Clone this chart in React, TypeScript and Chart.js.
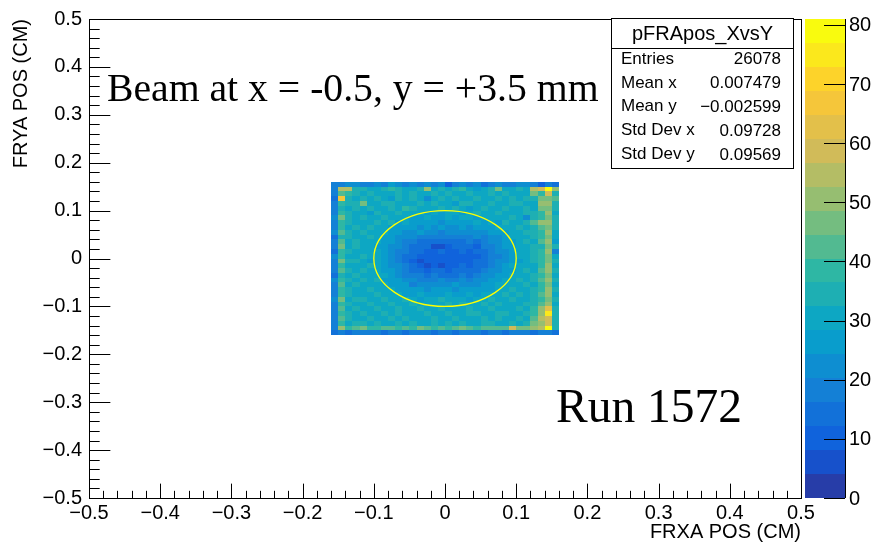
import React, { useEffect, useRef } from "react";
import { Chart, registerables } from "chart.js";

Chart.register(...registerables);

// ---------- data ----------
const X_MIN = -0.5;
const X_MAX = 0.5;
const Y_MIN = -0.5;
const Y_MAX = 0.5;
const AXIS_STEP = 0.1;
const MINOR_STEP = 0.02;

const HIST_X_LOW = -0.16; // left edge of first bin
const HIST_Y_HIGH = 0.16; // top edge of first row
const BIN_SIZE = 0.01;
const N_CONTOURS = 20;

const colorBarTicks = [0, 10, 20, 30, 40, 50, 60, 70, 80];

// bin contents, rows from top (y = 0.155) to bottom (y = -0.155), columns from x = -0.155 to 0.155
const cellCounts: number[][] = [
  [18, 20, 22, 21, 20, 19, 22, 20, 25, 24, 20, 21, 19, 22, 20, 21, 12, 20, 22, 19, 21, 13, 20, 22, 19, 20, 21, 22, 20, 12, 18, 14],
  [18, 55, 54, 36, 34, 30, 31, 33, 38, 33, 30, 32, 35, 50, 30, 35, 31, 35, 38, 30, 28, 32, 35, 48, 32, 30, 35, 31, 55, 58, 78, 52],
  [20, 42, 38, 33, 31, 35, 29, 32, 30, 34, 31, 36, 30, 29, 33, 31, 35, 30, 32, 33, 29, 31, 34, 30, 33, 32, 29, 31, 45, 40, 58, 35],
  [14, 66, 35, 30, 33, 29, 34, 31, 28, 33, 30, 35, 32, 22, 31, 33, 29, 34, 31, 30, 35, 32, 29, 33, 31, 36, 30, 33, 34, 45, 48, 44],
  [20, 38, 33, 36, 46, 31, 30, 34, 33, 29, 32, 30, 33, 31, 35, 30, 32, 28, 33, 36, 31, 30, 34, 32, 29, 33, 35, 31, 30, 52, 50, 35],
  [19, 36, 31, 33, 30, 35, 32, 29, 34, 31, 38, 33, 30, 32, 29, 33, 31, 34, 30, 28, 32, 35, 31, 30, 33, 29, 32, 34, 31, 48, 47, 33],
  [17, 40, 34, 30, 32, 28, 33, 31, 30, 35, 29, 30, 32, 28, 30, 27, 31, 29, 28, 30, 33, 31, 29, 34, 30, 32, 30, 33, 35, 40, 52, 32],
  [21, 48, 33, 31, 35, 32, 30, 36, 29, 31, 30, 28, 27, 29, 26, 28, 30, 27, 29, 31, 28, 30, 32, 29, 31, 34, 30, 22, 33, 38, 48, 34],
  [19, 37, 35, 30, 32, 30, 34, 31, 33, 28, 29, 26, 28, 25, 27, 24, 26, 28, 25, 27, 29, 26, 30, 28, 33, 31, 30, 34, 44, 50, 52, 33],
  [18, 39, 31, 34, 29, 33, 31, 30, 28, 27, 25, 27, 24, 26, 23, 25, 22, 24, 26, 23, 25, 27, 26, 29, 30, 32, 35, 31, 36, 42, 46, 35],
  [22, 42, 33, 30, 34, 31, 29, 32, 27, 26, 24, 22, 25, 21, 23, 20, 22, 21, 23, 22, 24, 21, 25, 27, 28, 31, 30, 33, 35, 40, 49, 32],
  [16, 36, 34, 31, 30, 33, 30, 28, 26, 24, 22, 23, 20, 18, 20, 17, 19, 18, 20, 19, 21, 20, 23, 24, 27, 29, 32, 30, 34, 38, 47, 30],
  [20, 43, 32, 35, 31, 29, 31, 27, 25, 23, 20, 18, 16, 15, 14, 15, 13, 16, 14, 17, 16, 19, 21, 23, 26, 28, 30, 33, 31, 41, 50, 28],
  [18, 48, 30, 33, 32, 30, 28, 26, 24, 21, 19, 15, 14, 13, 7, 6, 12, 14, 13, 15, 12, 17, 20, 22, 25, 27, 31, 29, 33, 36, 46, 34],
  [15, 40, 34, 31, 29, 32, 30, 27, 23, 20, 17, 14, 13, 12, 11, 13, 10, 12, 14, 11, 13, 16, 19, 21, 24, 28, 29, 32, 34, 39, 52, 18],
  [21, 37, 32, 30, 33, 31, 29, 25, 22, 19, 16, 13, 11, 10, 12, 10, 11, 9, 12, 10, 12, 15, 18, 20, 23, 26, 30, 31, 33, 37, 48, 30],
  [17, 45, 33, 35, 30, 28, 30, 26, 23, 20, 16, 12, 6, 10, 9, 11, 10, 12, 10, 11, 13, 13, 17, 21, 24, 27, 28, 30, 35, 40, 46, 33],
  [20, 38, 31, 32, 31, 33, 29, 27, 24, 21, 17, 13, 11, 6, 11, 5, 12, 10, 13, 12, 14, 16, 19, 22, 25, 29, 31, 32, 30, 38, 51, 31],
  [19, 41, 34, 30, 33, 30, 31, 28, 25, 22, 18, 15, 14, 12, 13, 14, 12, 15, 14, 16, 15, 18, 21, 23, 26, 28, 30, 33, 32, 42, 49, 34],
  [16, 36, 30, 33, 29, 32, 30, 29, 27, 24, 20, 18, 17, 15, 17, 13, 16, 15, 17, 16, 19, 21, 23, 25, 28, 30, 32, 29, 33, 39, 47, 30],
  [22, 39, 33, 31, 34, 31, 33, 28, 26, 25, 23, 21, 19, 20, 18, 21, 19, 20, 22, 20, 21, 24, 26, 27, 30, 29, 33, 31, 34, 41, 50, 35],
  [18, 43, 32, 34, 30, 29, 31, 30, 28, 27, 25, 19, 24, 22, 24, 21, 23, 25, 22, 24, 23, 25, 27, 29, 31, 32, 30, 34, 32, 37, 48, 32],
  [20, 37, 35, 30, 32, 33, 29, 31, 30, 28, 27, 25, 26, 24, 26, 27, 25, 24, 26, 25, 27, 26, 28, 30, 29, 33, 31, 30, 35, 40, 52, 33],
  [17, 40, 33, 31, 29, 31, 34, 32, 29, 30, 28, 27, 29, 28, 27, 26, 29, 28, 27, 29, 28, 30, 29, 31, 33, 30, 34, 32, 33, 43, 49, 31],
  [21, 46, 31, 34, 33, 30, 32, 35, 31, 29, 33, 30, 28, 31, 30, 33, 29, 31, 30, 28, 32, 30, 33, 31, 30, 35, 32, 31, 36, 39, 47, 34],
  [19, 38, 34, 30, 31, 33, 29, 31, 34, 32, 30, 33, 31, 29, 32, 30, 34, 31, 33, 30, 29, 33, 31, 34, 30, 32, 31, 33, 35, 44, 51, 32],
  [18, 41, 32, 33, 30, 32, 35, 30, 31, 33, 31, 29, 34, 32, 30, 35, 31, 30, 32, 34, 31, 30, 35, 32, 29, 31, 34, 30, 37, 50, 62, 35],
  [20, 37, 33, 31, 34, 30, 31, 33, 30, 35, 32, 30, 31, 34, 29, 32, 35, 31, 30, 33, 35, 31, 30, 33, 34, 32, 31, 33, 40, 52, 75, 33],
  [17, 42, 35, 32, 30, 33, 29, 31, 33, 30, 34, 32, 29, 31, 33, 30, 32, 34, 31, 30, 32, 33, 31, 35, 32, 30, 33, 31, 42, 55, 60, 36],
  [19, 39, 31, 34, 33, 31, 34, 32, 30, 33, 31, 35, 32, 30, 34, 31, 33, 30, 35, 32, 31, 34, 33, 30, 32, 35, 31, 34, 45, 52, 58, 34],
  [18, 52, 40, 42, 47, 40, 38, 41, 43, 40, 42, 39, 46, 41, 40, 43, 39, 44, 45, 41, 40, 43, 42, 41, 44, 60, 45, 45, 50, 55, 81, 36],
  [14, 18, 16, 19, 17, 20, 18, 16, 19, 17, 15, 18, 20, 17, 16, 19, 18, 14, 17, 20, 18, 16, 19, 17, 15, 18, 20, 17, 16, 19, 18, 16],
];

const Z_MAX = Math.max(...cellCounts.map((r) => Math.max(...r)));

const statsTitle = "pFRApos_XvsY";
const statsLabels = ["Entries", "Mean x", "Mean y", "Std Dev x", "Std Dev y"];
const statsValues = ["26078", "0.007479", "\u22120.002599", "0.09728", "0.09569"];

const beamText = "Beam at x = -0.5, y = +3.5 mm";
const runText = "Run 1572";
const xTitle = "FRXA POS (CM)";
const yTitle = "FRYA POS (CM)";

const ellipseCenter = [0, 0];
const ellipseRadii = [0.1, 0.1];

// kBird palette (ROOT)
const BIRD_STOPS = [0.0, 0.125, 0.25, 0.375, 0.5, 0.625, 0.75, 0.875, 1.0];
const BIRD_R = [0.2082, 0.0592, 0.078, 0.0232, 0.1802, 0.5301, 0.8186, 0.9956, 0.9764];
const BIRD_G = [0.1664, 0.3599, 0.5041, 0.6419, 0.7178, 0.7492, 0.7328, 0.7862, 0.9832];
const BIRD_B = [0.5293, 0.8684, 0.8385, 0.7914, 0.6425, 0.4662, 0.3499, 0.1968, 0.0539];

const SANS = "'Liberation Sans', Arial, Helvetica, sans-serif";
const SERIF = "'Liberation Serif', 'Times New Roman', serif";

function birdColor(t: number): string {
  t = Math.min(1, Math.max(0, t));
  let k = 0;
  while (k < BIRD_STOPS.length - 2 && t > BIRD_STOPS[k + 1]) k++;
  const f = (t - BIRD_STOPS[k]) / (BIRD_STOPS[k + 1] - BIRD_STOPS[k]);
  const lerp = (a: number[]) => Math.round(255 * (a[k] + (a[k + 1] - a[k]) * f));
  return `rgb(${lerp(BIRD_R)},${lerp(BIRD_G)},${lerp(BIRD_B)})`;
}

function levelColor(level: number): string {
  let idx = Math.floor(((level + 0.99) * 255) / N_CONTOURS);
  if (idx > 254) idx = 254;
  return birdColor(idx / 254);
}

function levelOf(v: number): number {
  let l = Math.floor(0.01 + (v * N_CONTOURS) / Z_MAX);
  if (l >= N_CONTOURS) l = N_CONTOURS - 1;
  if (l < 0) l = 0;
  return l;
}

function fmtTick(v: number): string {
  const n = Math.round(v * 10) / 10;
  if (Math.abs(n) < 1e-9) return "0";
  return n.toFixed(1).replace("-", "\u2212");
}

const rootPlugin = {
  id: "root2d",
  beforeDatasetsDraw(chart: any) {
    const { ctx, scales } = chart;
    const xs = scales.x;
    const ys = scales.y;
    ctx.save();
    for (let r = 0; r < cellCounts.length; r++) {
      const row = cellCounts[r];
      const yTop = HIST_Y_HIGH - r * BIN_SIZE;
      const py0 = Math.round(ys.getPixelForValue(yTop));
      const py1 = Math.round(ys.getPixelForValue(yTop - BIN_SIZE));
      for (let c = 0; c < row.length; c++) {
        const v = row[c];
        if (v <= 0) continue;
        const xl = HIST_X_LOW + c * BIN_SIZE;
        const px0 = Math.round(xs.getPixelForValue(xl));
        const px1 = Math.round(xs.getPixelForValue(xl + BIN_SIZE));
        ctx.fillStyle = levelColor(levelOf(v));
        ctx.fillRect(px0, py0, px1 - px0, py1 - py0);
      }
    }
    ctx.restore();
  },
  afterDatasetsDraw(chart: any) {
    const { ctx, scales, chartArea } = chart;
    const xs = scales.x;
    const ys = scales.y;
    const zs = scales.z;
    const { left, right, top, bottom } = chartArea;

    ctx.save();
    // ellipse
    const cx = xs.getPixelForValue(ellipseCenter[0]);
    const cy = ys.getPixelForValue(ellipseCenter[1]);
    const rx = Math.abs(xs.getPixelForValue(ellipseCenter[0] + ellipseRadii[0]) - cx);
    const ry = Math.abs(ys.getPixelForValue(ellipseCenter[1] + ellipseRadii[1]) - cy);
    ctx.strokeStyle = "#ffff00";
    ctx.lineWidth = 1.3;
    ctx.beginPath();
    ctx.ellipse(cx, cy, rx, ry, 0, 0, Math.PI * 2);
    ctx.stroke();

    // frame
    ctx.strokeStyle = "#000";
    ctx.lineWidth = 1;
    ctx.strokeRect(Math.round(left) + 0.5, Math.round(top) + 0.5, Math.round(right - left), Math.round(bottom - top));

    // inward ticks
    const w = right - left;
    const h = bottom - top;
    const xMajor = 0.03 * h;
    const yMajor = 0.03 * w;
    ctx.beginPath();
    const nMinor = Math.round((X_MAX - X_MIN) / MINOR_STEP);
    for (let i = 0; i <= nMinor; i++) {
      const v = X_MIN + i * MINOR_STEP;
      const px = Math.round(xs.getPixelForValue(v)) + 0.5;
      const len = i % 5 === 0 ? xMajor : xMajor / 2;
      ctx.moveTo(px, bottom);
      ctx.lineTo(px, bottom - len);
    }
    const nMinorY = Math.round((Y_MAX - Y_MIN) / MINOR_STEP);
    for (let i = 0; i <= nMinorY; i++) {
      const v = Y_MIN + i * MINOR_STEP;
      const py = Math.round(ys.getPixelForValue(v)) + 0.5;
      const len = i % 5 === 0 ? yMajor : yMajor / 2;
      ctx.moveTo(left, py);
      ctx.lineTo(left + len, py);
    }
    ctx.stroke();

    // colour bar
    const barL = right + 4;
    const barR = right + 44;
    for (let l = 0; l < N_CONTOURS; l++) {
      const p0 = Math.round(zs.getPixelForValue((l * Z_MAX) / N_CONTOURS));
      const p1 = Math.round(zs.getPixelForValue(((l + 1) * Z_MAX) / N_CONTOURS));
      ctx.fillStyle = levelColor(l);
      ctx.fillRect(barL, p1, barR - barL, p0 - p1);
    }
    ctx.beginPath();
    ctx.moveTo(barR + 0.5, top);
    ctx.lineTo(barR + 0.5, bottom);
    for (const t of colorBarTicks) {
      const py = Math.round(zs.getPixelForValue(t)) + 0.5;
      ctx.moveTo(barR, py);
      ctx.lineTo(barR - 21, py);
    }
    ctx.stroke();
    ctx.fillStyle = "#000";
    ctx.font = `20px ${SANS}`;
    ctx.textAlign = "left";
    ctx.textBaseline = "middle";
    for (const t of colorBarTicks) {
      ctx.fillText(String(t), barR + 4, zs.getPixelForValue(t) + 1);
    }

    // stats box
    const sbL = 611.5, sbT = 18.5, sbR = 793.5, sbB = 168.5, sbSep = 48.5;
    ctx.fillStyle = "#fff";
    ctx.fillRect(sbL, sbT, sbR - sbL, sbB - sbT);
    ctx.strokeStyle = "#000";
    ctx.strokeRect(sbL, sbT, sbR - sbL, sbB - sbT);
    ctx.beginPath();
    ctx.moveTo(sbL, sbSep);
    ctx.lineTo(sbR, sbSep);
    ctx.stroke();
    ctx.fillStyle = "#000";
    ctx.font = `20px ${SANS}`;
    ctx.textAlign = "center";
    ctx.textBaseline = "middle";
    ctx.fillText(statsTitle, (sbL + sbR) / 2, 34);
    ctx.font = `17px ${SANS}`;
    const rowY = [59, 83, 106, 130, 154];
    statsLabels.forEach((lab, i) => {
      ctx.textAlign = "left";
      ctx.fillText(lab, 621, rowY[i]);
      ctx.textAlign = "right";
      ctx.fillText(statsValues[i], 781, rowY[i] + (i >= 2 ? 1 : 0));
    });

    // annotations
    ctx.textAlign = "left";
    ctx.textBaseline = "alphabetic";
    ctx.font = `39.7px ${SERIF}`;
    ctx.fillText(beamText, 107, 101);
    ctx.font = `47.5px ${SERIF}`;
    ctx.fillText(runText, 556, 422);
    ctx.restore();
  },
};

export default function App() {
  const canvasRef = useRef<HTMLCanvasElement | null>(null);

  useEffect(() => {
    document.body.style.margin = "0";
    const canvas = canvasRef.current;
    if (!canvas) return;
    const tickFont = { family: SANS, size: 20 };
    const chart = new Chart(canvas, {
      type: "scatter",
      data: { datasets: [] },
      plugins: [rootPlugin as any],
      options: {
        animation: false,
        responsive: false,
        devicePixelRatio: 1,
        layout: { padding: { top: 15, right: 74, left: 0, bottom: 0 } },
        plugins: {
          legend: { display: false },
          tooltip: { enabled: false },
          title: { display: false },
        },
        scales: {
          x: {
            type: "linear",
            position: "bottom",
            min: X_MIN,
            max: X_MAX,
            ticks: {
              stepSize: AXIS_STEP,
              font: tickFont,
              color: "#000",
              padding: 3,
              maxRotation: 0,
              autoSkip: false,
              callback: (v: any) => fmtTick(Number(v)),
            },
            grid: { display: false, drawTicks: false, tickLength: 0 },
            border: { display: false },
            title: {
              display: true,
              text: xTitle,
              align: "end",
              color: "#000",
              font: { family: SANS, size: 20 },
              padding: { top: 0, bottom: 0 },
            },
            afterFit: (s: any) => {
              s.height = 46;
            },
          },
          y: {
            type: "linear",
            position: "left",
            min: Y_MIN,
            max: Y_MAX,
            ticks: {
              stepSize: AXIS_STEP,
              font: tickFont,
              color: "#000",
              padding: 7,
              autoSkip: false,
              callback: (v: any) => fmtTick(Number(v)),
            },
            grid: { display: false, drawTicks: false, tickLength: 0 },
            border: { display: false },
            title: {
              display: true,
              text: yTitle,
              align: "end",
              color: "#000",
              font: { family: SANS, size: 20 },
              padding: { top: 9, bottom: 0 },
            },
            afterFit: (s: any) => {
              s.width = 89;
            },
          },
          z: {
            type: "linear",
            display: false,
            position: "right",
            min: 0,
            max: Z_MAX,
          },
        },
      } as any,
    });
    return () => chart.destroy();
  }, []);

  return (
    <div style={{ position: "absolute", left: 0, top: 0, width: 875, height: 544, background: "#fff" }}>
      <canvas ref={canvasRef} width={875} height={544} style={{ display: "block" }} />
    </div>
  );
}
